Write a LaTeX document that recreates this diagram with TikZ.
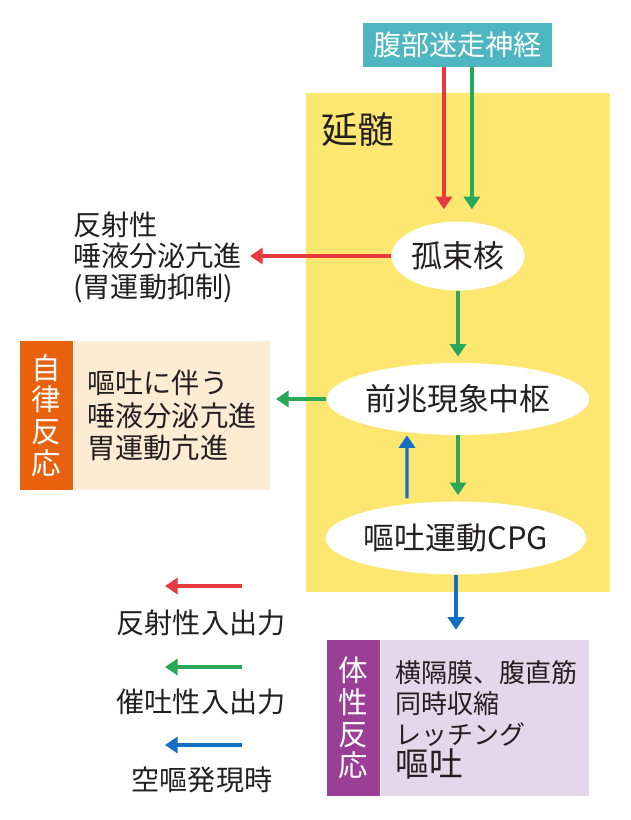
\documentclass[tikz,border=0pt]{standalone}
\usepackage{fontspec}
\setmainfont{Noto Sans CJK JP}
\usetikzlibrary{arrows.meta}
\usetikzlibrary{shapes.geometric}
\usetikzlibrary{positioning}

\definecolor{vagusteal}{RGB}{78,182,192}
\definecolor{medyellow}{RGB}{253,231,113}
\definecolor{reflexred}{RGB}{232,56,64}
\definecolor{emeticgreen}{RGB}{42,168,90}
\definecolor{retchblue}{RGB}{20,110,195}
\definecolor{autoorange}{RGB}{232,98,14}
\definecolor{autocream}{RGB}{253,235,212}
\definecolor{somapurple}{RGB}{155,62,150}
\definecolor{somalilac}{RGB}{230,214,235}
\definecolor{inktext}{RGB}{35,31,32}

\tikzset{
  flow/.style={line width=2.4pt, -{Triangle[width=11.5pt,length=9pt]}},
  reflexflow/.style={flow, draw=reflexred},
  emeticflow/.style={flow, draw=emeticgreen},
  retchflow/.style={flow, draw=retchblue},
  nucleus/.style={ellipse, fill=white, inner sep=0pt, text=inktext, font=\fontsize{22pt}{24pt}\selectfont},
  bodytext/.style={inner sep=0pt, align=left, text=inktext, font=\fontsize{20pt}{22pt}\selectfont},
  tag/.style={rectangle, inner sep=0pt, align=center, text=white, font=\fontsize{21pt}{22.5pt}\selectfont}
}

\begin{document}
\begin{tikzpicture}[x=0.025cm, y=-0.025cm]
    \useasboundingbox (0,0) rectangle (630,820);

    % medulla
    \node[rectangle, fill=medyellow, inner sep=0pt, minimum width=7.6cm, minimum height=12.475cm, anchor=north west] (medulla) at (306,93) {};
    \node[anchor=west, inner sep=0pt, text=inktext, font=\fontsize{26pt}{28pt}\selectfont] (medlabel) at (321,130) {延髄};

    \node[rectangle, fill=vagusteal, minimum width=4.725cm, minimum height=1.1cm, text=white, font=\fontsize{20pt}{22pt}\selectfont] (vagus) at (457.5,45) {腹部迷走神経};

    \node[nucleus, minimum width=3.325cm, minimum height=1.725cm] (nts) at (458,256) {孤束核};
    \node[nucleus, minimum width=5.925cm, minimum height=1.8cm] (aura) at (458,399) {前兆現象中枢};
    \node[nucleus, minimum width=5.8cm, minimum height=1.825cm] (cpg) at (456,538) {嘔吐運動CPG};

    % outputs
    \node[bodytext, anchor=west] (salivation) at (73,257) {反射性\\唾液分泌亢進\\(胃運動抑制)};

    \node[tag, fill=autoorange, minimum width=1.325cm, minimum height=3.725cm] (autotag) at (46.5,415.5) {自\\律\\反\\応};
    \node[rectangle, fill=autocream, minimum width=4.9cm, minimum height=3.725cm, anchor=west] (autobox) at (autotag.east) {};
    \node[bodytext, anchor=west, font=\fontsize{20pt}{23pt}\selectfont] (autotext) at ([xshift=0.35cm]autobox.west) {嘔吐に伴う\\唾液分泌亢進\\胃運動亢進};

    \node[tag, fill=somapurple, minimum width=1.325cm, minimum height=3.9cm] (somatag) at (353.5,718) {体\\性\\反\\応};
    \node[rectangle, fill=somalilac, minimum width=5.2cm, minimum height=3.9cm, anchor=west] (somabox) at (somatag.east) {};
    \node[bodytext, anchor=west, font=\fontsize{18.5pt}{22pt}\selectfont] (somatext) at ([xshift=0.375cm, yshift=-0.05cm]somabox.west) {横隔膜、腹直筋\\同時収縮\\レッチング\\[1pt]{\fontsize{24pt}{26pt}\selectfont 嘔吐}};

    % connectors
    \draw[reflexflow, shorten >=8.5pt] ([xshift=-0.34cm]vagus.south) -- ([xshift=-0.34cm]vagus.south |- nts.north);
    \draw[emeticflow, shorten >=8.5pt] ([xshift=0.36cm]vagus.south) -- ([xshift=0.36cm]vagus.south |- nts.north);
    \draw[reflexflow, shorten >=5.5pt] (nts) -- (nts -| salivation.east);
    \draw[emeticflow, shorten >=4.3pt] (nts) -- (aura);
    \draw[emeticflow, shorten >=4.3pt] (aura) -- (aura -| autobox.east);
    \draw[emeticflow, shorten >=4.3pt] (aura.south) -- (aura.south |- cpg.north);
    \draw[retchflow, shorten <=2pt] ([xshift=-1.225cm]cpg.north) -- ([xshift=-1.275cm]aura.south);
    \draw[retchflow, shorten >=7pt] (cpg.south) -- (cpg.south |- somatag.north);

    % legend
    \coordinate (legredA) at (242,586);
    \coordinate (legredB) at (165,586);
    \coordinate (leggreenA) at (242,667);
    \coordinate (leggreenB) at (165,667);
    \coordinate (legblueA) at (242,745);
    \coordinate (legblueB) at (165,745);
    \draw[reflexflow] (legredA) -- (legredB);
    \draw[emeticflow] (leggreenA) -- (leggreenB);
    \draw[retchflow] (legblueA) -- (legblueB);
    \node[bodytext] (legreflex) at (201,623) {反射性入出力};
    \node[bodytext] (legemetic) at (201,702) {催吐性入出力};
    \node[bodytext] (legretch) at (202,780) {空嘔発現時};
\end{tikzpicture}
\end{document}
